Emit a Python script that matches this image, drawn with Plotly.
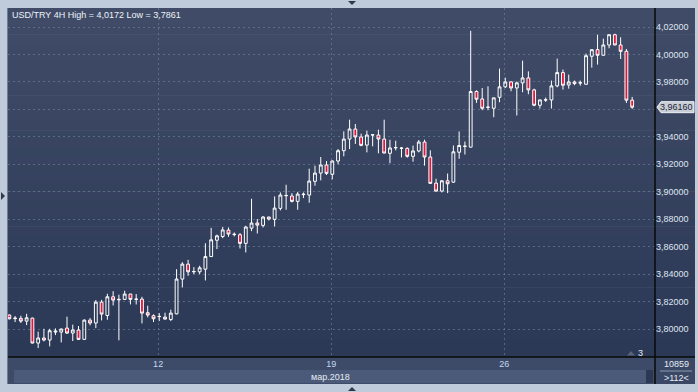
import plotly.graph_objects as go

# ---------------- data (USD/TRY, 4H candles) ----------------
opens = [3.8102, 3.8076, 3.8078, 3.8058, 3.8080, 3.7898, 3.7935, 3.7920, 3.7978, 3.7978,
         3.8007, 3.7971, 3.7993, 3.7925, 3.8065, 3.8044, 3.8196, 3.8099, 3.8235, 3.8213,
         3.8216, 3.8255, 3.8216, 3.8218, 3.8119, 3.8097, 3.8090, 3.8087, 3.8070, 3.8111,
         3.8364, 3.8473, 3.8417, 3.8417, 3.8436, 3.8528, 3.8647, 3.8674, 3.8721, 3.8688,
         3.8687, 3.8624, 3.8735, 3.8772, 3.8755, 3.8816, 3.8799, 3.8879, 3.8971, 3.8969,
         3.8930, 3.8979, 3.8976, 3.9076, 3.9136, 3.9195, 3.9127, 3.9224, 3.9299, 3.9384,
         3.9457, 3.9399, 3.9340, 3.9413, 3.9413, 3.9384, 3.9280, 3.9320, 3.9316, 3.9316,
         3.9258, 3.9297, 3.9362, 3.9253, 3.9063, 3.9005, 3.9080, 3.9070, 3.9288, 3.9330,
         3.9325, 3.9730, 3.9676, 3.9615, 3.9608, 3.9688, 3.9764, 3.9800, 3.9756, 3.9793,
         3.9829, 3.9742, 3.9630, 3.9668, 3.9669, 3.9771, 3.9868, 3.9778, 3.9800, 3.9792,
         3.9783, 3.9987, 4.0035, 3.9994, 4.0069, 4.0144, 4.0069, 4.0023, 3.9667]
highs = [3.8106, 3.8095, 3.8097, 3.8111, 3.8083, 3.7981, 3.8002, 3.8002, 3.8005, 3.8005,
         3.8090, 3.8032, 3.8022, 3.8070, 3.8080, 3.8211, 3.8213, 3.8257, 3.8276, 3.8250,
         3.8279, 3.8256, 3.8255, 3.8235, 3.8170, 3.8107, 3.8116, 3.8119, 3.8141, 3.8436,
         3.8487, 3.8504, 3.8451, 3.8461, 3.8625, 3.8737, 3.8688, 3.8744, 3.8740, 3.8704,
         3.8699, 3.8752, 3.8949, 3.8801, 3.8823, 3.8818, 3.8966, 3.8995, 3.9051, 3.8990,
         3.8998, 3.8995, 3.9168, 3.9190, 3.9253, 3.9224, 3.9229, 3.9311, 3.9440, 3.9525,
         3.9494, 3.9423, 3.9445, 3.9416, 3.9452, 3.9525, 3.9379, 3.9372, 3.9326, 3.9323,
         3.9336, 3.9377, 3.9379, 3.9302, 3.9095, 3.9085, 3.9133, 3.9337, 3.9439, 3.9366,
         4.0172, 3.9739, 3.9756, 3.9768, 3.9685, 3.9897, 3.9831, 3.9805, 3.9802, 3.9955,
         3.9877, 3.9751, 3.9670, 3.9686, 3.9810, 3.9970, 3.9890, 3.9853, 3.9810, 3.9810,
         4.0006, 4.0035, 4.0144, 4.0115, 4.0144, 4.0151, 4.0125, 4.0040, 3.9691]
lows = [3.8070, 3.8051, 3.8044, 3.8029, 3.7895, 3.7861, 3.7910, 3.7874, 3.7956, 3.7903,
        3.7964, 3.7913, 3.7920, 3.7922, 3.8027, 3.8007, 3.8063, 3.8068, 3.8172, 3.7918,
        3.8213, 3.8179, 3.8179, 3.8041, 3.8085, 3.8051, 3.8058, 3.8068, 3.8058, 3.8107,
        3.8303, 3.8388, 3.8400, 3.8400, 3.8354, 3.8526, 3.8582, 3.8662, 3.8672, 3.8675,
        3.8587, 3.8558, 3.8713, 3.8696, 3.8740, 3.8791, 3.8747, 3.8864, 3.8869, 3.8922,
        3.8869, 3.8954, 3.8920, 3.9044, 3.9083, 3.9122, 3.9090, 3.9200, 3.9258, 3.9311,
        3.9348, 3.9331, 3.9287, 3.9331, 3.9280, 3.9280, 3.9207, 3.9302, 3.9250, 3.9248,
        3.9219, 3.9287, 3.9190, 3.9059, 3.9000, 3.8995, 3.8990, 3.9065, 3.9240, 3.9271,
        3.9323, 3.9647, 3.9594, 3.9594, 3.9543, 3.9652, 3.9756, 3.9732, 3.9555, 3.9725,
        3.9710, 3.9623, 3.9606, 3.9655, 3.9606, 3.9761, 3.9744, 3.9751, 3.9776, 3.9773,
        3.9780, 3.9904, 3.9926, 3.9994, 4.0045, 4.0069, 3.9967, 3.9647, 3.9604]
closes = [3.8075, 3.8079, 3.8058, 3.8082, 3.7898, 3.7935, 3.7920, 3.7988, 3.7985, 3.8000,
          3.7971, 3.7993, 3.7925, 3.8065, 3.8044, 3.8196, 3.8109, 3.8235, 3.8211, 3.8216,
          3.8255, 3.8216, 3.8218, 3.8116, 3.8102, 3.8075, 3.8092, 3.8073, 3.8116, 3.8364,
          3.8473, 3.8417, 3.8419, 3.8446, 3.8528, 3.8650, 3.8679, 3.8722, 3.8692, 3.8690,
          3.8624, 3.8743, 3.8772, 3.8757, 3.8816, 3.8801, 3.8881, 3.8976, 3.8973, 3.8930,
          3.8983, 3.8982, 3.9078, 3.9136, 3.9195, 3.9134, 3.9224, 3.9299, 3.9384, 3.9457,
          3.9399, 3.9338, 3.9413, 3.9415, 3.9384, 3.9282, 3.9319, 3.9322, 3.9318, 3.9258,
          3.9297, 3.9362, 3.9253, 3.9061, 3.9005, 3.9080, 3.9058, 3.9291, 3.9337, 3.9332,
          3.9730, 3.9674, 3.9608, 3.9616, 3.9684, 3.9764, 3.9800, 3.9756, 3.9793, 3.9829,
          3.9742, 3.9630, 3.9669, 3.9670, 3.9771, 3.9868, 3.9776, 3.9800, 3.9788, 3.9794,
          3.9991, 4.0035, 3.9994, 4.0069, 4.0144, 4.0069, 4.0023, 3.9667, 3.9616]

date_start_idx = [26, 56, 86]          # candle index where each week starts
date_labels = ["12", "19", "26"]
month_label = "мар.2018"
price_ticks = [3.80, 3.82, 3.84, 3.86, 3.88, 3.90, 3.92, 3.94, 3.96, 3.98, 4.00, 4.02]
symbol = "USD/TRY 4H"
volume_text = "10859"
zoom_text = ">112<"
marker_text = "3"

# ---------------- layout geometry ----------------
W, H = 698, 392
PL, PR, PT, PB = 8, 655, 8, 357      # plot area in pixels


def px(x):
    return (x - PL) / (PR - PL)


def py(y):
    return (PB - y) / (PB - PT)


def fmt(v, d):
    return f"{v:.{d}f}".replace(".", ",")


idx = list(range(len(opens)))
last = closes[-1]

fig = go.Figure()
fig.add_trace(go.Candlestick(
    x=idx, open=opens, high=highs, low=lows, close=closes,
    increasing=dict(fillcolor="rgba(0,0,0,0)", line=dict(color="#ffffff", width=1)),
    decreasing=dict(fillcolor="#e2173d", line=dict(color="#ffffff", width=1)),
    whiskerwidth=0, showlegend=False, hoverinfo="skip",
))

shapes = []
# gradient panel background
N = 40
top_c = (64, 76, 103)
bot_c = (43, 56, 86)
y_top, y_bot = 8, 357
for j in range(N):
    t = j / (N - 1)
    c = tuple(round(top_c[k] + (bot_c[k] - top_c[k]) * t) for k in range(3))
    y0 = y_top + (y_bot - y_top) * j / N
    y1 = y_top + (y_bot - y_top) * (j + 1) / N
    shapes.append(dict(type="rect", xref="paper", yref="paper", layer="below",
                       x0=px(8), x1=px(695), y0=py(y1 + 0.6), y1=py(y0),
                       fillcolor="rgb(%d,%d,%d)" % c, line=dict(width=0)))
# bottom bars
shapes.append(dict(type="rect", xref="paper", yref="paper", layer="below",
                   x0=px(8), x1=px(655), y0=py(384), y1=py(357),
                   fillcolor="#3d4b69", line=dict(width=0)))
shapes.append(dict(type="rect", xref="paper", yref="paper", layer="below",
                   x0=px(14), x1=px(646), y0=py(383), y1=py(370),
                   fillcolor="#4b5a78", line=dict(width=0)))
shapes.append(dict(type="rect", xref="paper", yref="paper", layer="below",
                   x0=px(646), x1=px(653), y0=py(383), y1=py(370),
                   fillcolor="#2c3954", line=dict(width=0)))
shapes.append(dict(type="rect", xref="paper", yref="paper", layer="below",
                   x0=px(655), x1=px(695), y0=py(384), y1=py(357),
                   fillcolor="#3a4866", line=dict(width=0)))
shapes.append(dict(type="line", xref="paper", yref="paper", layer="above",
                   x0=px(660), x1=px(692), y0=py(371), y1=py(371),
                   line=dict(color="#8d99ad", width=1)))
# black separators
shapes.append(dict(type="line", xref="paper", yref="paper", layer="above",
                   x0=px(655), x1=px(655), y0=py(384), y1=py(8),
                   line=dict(color="#080808", width=1.5)))
shapes.append(dict(type="line", xref="paper", yref="paper", layer="above",
                   x0=px(8), x1=px(695), y0=py(357), y1=py(357),
                   line=dict(color="#080808", width=1.5)))
# left border line
shapes.append(dict(type="line", xref="paper", yref="paper", layer="above",
                   x0=px(7.5), x1=px(7.5), y0=py(384), y1=py(8),
                   line=dict(color="#6f7d92", width=1)))
# frame triangles
shapes.append(dict(type="path", xref="paper", yref="paper", layer="above",
                   path="M %f %f L %f %f L %f %f Z" % (px(348), py(1), px(356), py(1), px(352), py(5)),
                   fillcolor="#2f3a4c", line=dict(width=0)))
shapes.append(dict(type="path", xref="paper", yref="paper", layer="above",
                   path="M %f %f L %f %f L %f %f Z" % (px(348), py(391), px(356), py(391), px(352), py(387)),
                   fillcolor="#2f3a4c", line=dict(width=0)))
shapes.append(dict(type="path", xref="paper", yref="paper", layer="above",
                   path="M %f %f L %f %f L %f %f Z" % (px(1), py(192), px(1), py(200), px(5), py(196)),
                   fillcolor="#2f3a4c", line=dict(width=0)))
# small marker triangle near "3"
shapes.append(dict(type="path", xref="paper", yref="paper", layer="above",
                   path="M %f %f L %f %f L %f %f Z" % (px(627), py(355.5), px(635), py(355.5), px(631), py(351)),
                   fillcolor="#5a6478", line=dict(width=0)))
# current price label
shapes.append(dict(type="path", xref="paper", yref="y", layer="above",
                   xsizemode="pixel", ysizemode="pixel", xanchor=1, yanchor=last,
                   path="M 2 0 L 6 5.5 L 39 5.5 L 39 -5.5 L 6 -5.5 Z",
                   fillcolor="#c9ced6", line=dict(color="#eef1f5", width=1)))

FONT = "Liberation Sans, Arial, sans-serif"
annotations = [
    dict(text="%s High = %s Low = %s" % (symbol, fmt(max(highs), 4), fmt(min(lows), 4)),
         xref="paper", yref="paper", x=px(10), y=py(15), xanchor="left", yanchor="middle",
         showarrow=False, font=dict(family=FONT, size=9, color="#eef2f8")),
    dict(text=month_label, xref="paper", yref="paper", x=px(330), y=py(376.5),
         xanchor="center", yanchor="middle", showarrow=False,
         font=dict(family=FONT, size=9, color="#e6ecf4")),
    dict(text=volume_text, xref="paper", yref="paper", x=px(676), y=py(364),
         xanchor="center", yanchor="middle", showarrow=False,
         font=dict(family=FONT, size=9, color="#e6ecf4")),
    dict(text=zoom_text, xref="paper", yref="paper", x=px(676), y=py(377.5),
         xanchor="center", yanchor="middle", showarrow=False,
         font=dict(family=FONT, size=9, color="#e6ecf4")),
    dict(text=marker_text, xref="paper", yref="paper", x=px(640.5), y=py(353),
         xanchor="center", yanchor="middle", showarrow=False,
         font=dict(family=FONT, size=9, color="#e6ecf4")),
    dict(text=fmt(last, 5), xref="paper", yref="y", x=px(676.5), y=last,
         xanchor="center", yanchor="middle", showarrow=False,
         font=dict(family=FONT, size=9, color="#1c2638")),
]

# the tick label hidden behind the current-price tag is left blank
tick_text = ["" if abs(v - last) < 0.006 else fmt(v, 5) for v in price_ticks]

grid = dict(gridcolor="rgba(120,138,168,0.55)", gridwidth=1, griddash="2px,3px")

fig.update_layout(
    width=W, height=H,
    margin=dict(l=PL, r=W - PR, t=PT, b=H - PB, pad=0),
    paper_bgcolor="#bfcbda", plot_bgcolor="rgba(0,0,0,0)",
    template="none", showlegend=False, separators=", ",
    font=dict(family=FONT, size=9, color="#dfe6f0"),
    shapes=shapes, annotations=annotations,
    xaxis=dict(range=[-0.23, 111.96], rangeslider=dict(visible=False),
               tickmode="array", tickvals=[i - 0.2 for i in date_start_idx], ticktext=date_labels,
               showgrid=True, zeroline=False, showline=False, ticks="",
               tickfont=dict(family=FONT, size=9, color="#c4d8f0"), fixedrange=True, **grid),
    yaxis=dict(range=[3.77965, 4.03384], side="right", tickmode="array",
               tickvals=price_ticks, ticktext=tick_text,
               showgrid=True, zeroline=False, showline=False, ticks="",
               tickfont=dict(family=FONT, size=9, color="#dfe6f0"), fixedrange=True, **grid),
)

fig.write_html(
    "out.html",
    config={"displayModeBar": False},
    post_script="document.documentElement.style.margin='0';document.body.style.margin='0';"
                "document.body.style.background='#bfcbda';",
)
